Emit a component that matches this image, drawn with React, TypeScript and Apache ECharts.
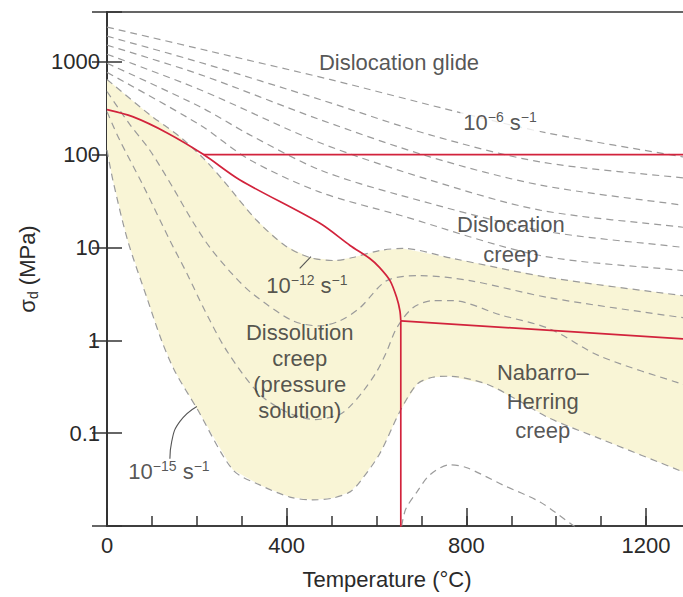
import React, { useEffect, useRef } from "react";
import * as echarts from "echarts";

// ---- axes ----
const X_MIN = 0;
const X_MAX = 1300;
const Y_MIN = 0.01;
const Y_MAX = 3430;
const X_TICK_LABELS = ["0", "400", "800", "1200"];
const Y_TICK_LABELS = ["0.1", "1", "10", "100", "1000"]; // exponents -1..3

// ---- strain-rate contours [T (°C), differential stress (MPa)] ----
const RATE_1E6 = [[0, 2359], [229, 1297], [496, 644], [786, 283], [977, 172], [1282, 94.4], [1300, 93]];
const RATE_1E7 = [[0, 1884], [206, 986], [474, 392], [719, 163], [964, 83.4], [1282, 56], [1300, 55]];
const RATE_1E8 = [[0, 1506], [206, 731], [474, 238], [719, 94.4], [964, 47], [1282, 28.5], [1300, 28]];
const RATE_1E9 = [[0, 1203], [206, 502], [474, 134], [719, 53.2], [964, 25.2], [1282, 16.5], [1300, 16.2]];
const RATE_1E10 = [[0, 962], [206, 329], [318, 163], [474, 68.3], [652, 36.6], [964, 15.3], [1282, 10], [1300, 9.8]];
const RATE_1E11 = [[0, 768], [206, 210], [318, 87.7], [474, 39.4], [652, 22.2], [964, 8.19], [1282, 5.63], [1300, 5.5]];
const RATE_1E12 = [[0, 644], [95, 269], [162, 156], [218, 87.7], [258, 53.2], [333, 19.6], [396, 10.5], [451, 7.79], [507, 7.23], [547, 7.79], [607, 9.27], [659, 9.75], [770, 7.6], [985, 4.73], [1282, 3.02], [1300, 2.95]];
const RATE_1E13 = [[0, 478], [51, 210], [95, 112], [146, 44.7], [189, 19.6], [229, 10], [278, 5.23], [324, 3.17], [414, 1.62], [474, 1.43], [518, 1.62], [563, 2.24], [623, 4.39], [696, 4.97], [808, 4.39], [985, 2.87], [1282, 1.75], [1300, 1.72]];
const RATE_1E14 = [[0, 290], [28, 144], [80, 47], [140, 11.9], [178, 5.23], [218, 2.08], [267, 0.765], [340, 0.262], [407, 0.163], [463, 0.14], [518, 0.159], [541, 0.194], [570, 0.282], [601, 0.465], [623, 0.765], [645, 1.36], [681, 2.24], [725, 2.67], [770, 2.67], [875, 1.88], [985, 1.33], [1097, 0.676], [1282, 0.336], [1300, 0.325]];
const RATE_1E15 = [[0, 112], [13, 53.2], [46, 11.9], [91, 2.67], [122, 0.98], [151, 0.465], [200, 0.185], [280, 0.0403], [340, 0.0277], [407, 0.0205], [458, 0.0191], [503, 0.02], [541, 0.0233], [563, 0.0299], [607, 0.0601], [652, 0.171], [690, 0.336], [725, 0.4], [763, 0.41], [846, 0.336], [919, 0.22], [986, 0.144], [1097, 0.0873], [1282, 0.0383], [1300, 0.0349]];
const RATE_1E16 = [[656, 0.01], [665, 0.0152], [690, 0.0233], [719, 0.0356], [763, 0.0456], [801, 0.0424], [881, 0.0277], [964, 0.0181], [1037, 0.0102], [1064, 0.0084]];
const CONTOURS = [RATE_1E6, RATE_1E7, RATE_1E8, RATE_1E9, RATE_1E10, RATE_1E11, RATE_1E12, RATE_1E13, RATE_1E14, RATE_1E15, RATE_1E16];

// ---- mechanism boundaries ----
const BOUNDARY_DISSOLUTION = [[0, 305], [57, 256], [133, 172], [215, 100], [296, 53.2], [474, 18.2], [541, 10.5], [585, 7.6], [607, 6.07], [630, 4.39], [645, 2.87], [652, 2.08], [654, 1.62]];
const BOUNDARY_GLIDE = [[215, 100], [1300, 100]];
const BOUNDARY_VERTICAL = [[654, 1.62], [654, 0.005]];
const BOUNDARY_NH = [[654, 1.62], [1300, 1.02]];

// ---- leader lines for labels ----
const LEADER_12 = [[429, 5.93], [454, 7.98]];
const LEADER_15 = [[140, 0.053], [144, 0.081], [162, 0.133], [200, 0.194]];

// ---- annotations ----
const NOTE_TEXTS = [
  "Dislocation glide",
  "10{sup|−6} s{sup|−1}",
  "Dislocation\ncreep",
  "10{sup|−12} s{sup|−1}",
  "Dissolution\ncreep\n(pressure\nsolution)",
  "Nabarro–\nHerring\ncreep",
  "10{sup|−15} s{sup|−1}",
];
const NOTE_ANCHORS = [[650, 973], [875, 220], [899, 12.2], [445, 3.88], [429, 0.465], [970, 0.22], [138, 0.0384]];
const NOTE_LINE_HEIGHTS = [26, 26, 30, 26, 26, 29, 26];

const FONT = "'Liberation Sans', Arial, Helvetica, sans-serif";
const TEXT = "#2a2a2a";
const AXIS = "#333333";
const RED = "#d2233c";
const DASH = "#9b9b9b";
const CREAM = "#f9f5d6";

export default function App() {
  const ref = useRef<HTMLDivElement>(null);

  useEffect(() => {
    if (!ref.current) return;
    const chart = echarts.init(ref.current, null, { renderer: "svg" });

    const yellow = [...RATE_1E12, ...[...RATE_1E15].reverse()];

    const axisLine = { show: true, lineStyle: { color: AXIS, width: 1.5 } };
    const tickStyle = { color: AXIS, width: 1.5 };

    const yFormatter = (v: number) => {
      const l = Math.log10(v);
      const e = Math.round(l);
      if (Math.abs(l - e) > 1e-6) return "";
      return Y_TICK_LABELS[e + 1] ?? "";
    };

    const series: any[] = [
      {
        type: "custom",
        coordinateSystem: "cartesian2d",
        clip: true,
        silent: true,
        z: 1,
        data: [[0, 1]],
        renderItem: (_p: any, api: any) => ({
          type: "polygon",
          shape: { points: yellow.map((p) => api.coord(p)) },
          style: { fill: CREAM, stroke: null },
        }),
      },
      ...CONTOURS.map((c) => ({
        type: "line",
        data: c,
        symbol: "none",
        smooth: 0.3,
        silent: true,
        clip: true,
        z: 2,
        lineStyle: { color: DASH, width: 1.2, type: [7, 5] },
      })),
      ...[BOUNDARY_DISSOLUTION, BOUNDARY_GLIDE, BOUNDARY_VERTICAL, BOUNDARY_NH].map((b, i) => ({
        type: "line",
        data: b,
        symbol: "none",
        smooth: i === 0 ? 0.3 : false,
        silent: true,
        clip: true,
        z: 3,
        lineStyle: { color: RED, width: 1.7 },
      })),
      ...[LEADER_12, LEADER_15].map((l) => ({
        type: "line",
        data: l,
        symbol: "none",
        smooth: 0.5,
        silent: true,
        clip: true,
        z: 3,
        lineStyle: { color: "#555", width: 1.1 },
      })),
      {
        type: "scatter",
        symbolSize: 1,
        silent: true,
        z: 5,
        itemStyle: { color: "rgba(0,0,0,0)" },
        data: NOTE_ANCHORS.map((p, i) => ({
          value: p,
          label: {
            formatter: NOTE_TEXTS[i],
            lineHeight: NOTE_LINE_HEIGHTS[i],
            ...(i === 1 ? { backgroundColor: "#fff", padding: [0, 3] } : {}),
          },
        })),
        label: {
          show: true,
          position: "inside",
          fontSize: 22,
          color: TEXT,
          fontFamily: FONT,
          align: "center",
          verticalAlign: "middle",
          rich: {
            sup: { fontSize: 14, lineHeight: 14, verticalAlign: "top", color: TEXT, fontFamily: FONT },
          },
        },
      },
    ];

    chart.setOption({
      animation: false,
      textStyle: { fontFamily: FONT },
      grid: {
        left: 107,
        top: 12,
        width: 584,
        height: 514,
        show: true,
        borderColor: AXIS,
        borderWidth: 1.5,
        backgroundColor: "transparent",
        outerBoundsMode: "none",
      },
      xAxis: [
        {
          type: "value",
          min: X_MIN,
          max: X_MAX,
          interval: 400,
          position: "bottom",
          axisLine,
          axisTick: { show: true, inside: true, length: 18, lineStyle: tickStyle },
          axisLabel: {
            margin: 8,
            fontSize: 22,
            color: TEXT,
            fontFamily: FONT,
            formatter: (v: number) => (v % 400 === 0 ? X_TICK_LABELS[v / 400] ?? "" : ""),
          },
          splitLine: { show: false },
          name: "Temperature (°C)",
          nameLocation: "middle",
          nameGap: 42,
          nameTextStyle: { fontSize: 22, color: TEXT, fontFamily: FONT, padding: [0, 24, 0, 0] },
        },
        {
          type: "value",
          min: X_MIN,
          max: X_MAX,
          interval: 100,
          position: "bottom",
          axisLine: { show: false },
          axisTick: { show: true, inside: true, length: 10, lineStyle: tickStyle },
          axisLabel: { show: false },
          splitLine: { show: false },
        },
      ],
      yAxis: [
        {
          type: "log",
          logBase: 10,
          min: Y_MIN,
          max: Y_MAX,
          position: "left",
          axisLine,
          axisTick: { show: true, inside: true, length: 15, lineStyle: tickStyle },
          axisLabel: { margin: 7, fontSize: 22, color: TEXT, fontFamily: FONT, formatter: yFormatter },
          splitLine: { show: false },
          name: "{n|σ}{sub|d}{n| (MPa)}",
          nameLocation: "middle",
          nameGap: 65,
          nameTextStyle: {
            fontSize: 22,
            color: TEXT,
            fontFamily: FONT,
            rich: {
              n: { fontSize: 22, lineHeight: 26, color: TEXT, fontFamily: FONT },
              sub: { fontSize: 14, lineHeight: 14, verticalAlign: "bottom", color: TEXT, fontFamily: FONT },
            },
          },
        },
        {
          type: "log",
          logBase: 10,
          min: Y_MIN,
          max: Y_MAX,
          position: "right",
          axisLine,
          axisTick: { show: true, inside: true, length: 15, lineStyle: tickStyle },
          axisLabel: { show: false },
          splitLine: { show: false },
        },
      ],
      series,
    });

    return () => chart.dispose();
  }, []);

  return (
    <div
      style={{
        position: "fixed",
        left: 0,
        top: 0,
        width: 683,
        height: 597,
        overflow: "hidden",
        background: "#fff",
      }}
    >
      <div ref={ref} style={{ width: 700, height: 597 }} />
    </div>
  );
}
